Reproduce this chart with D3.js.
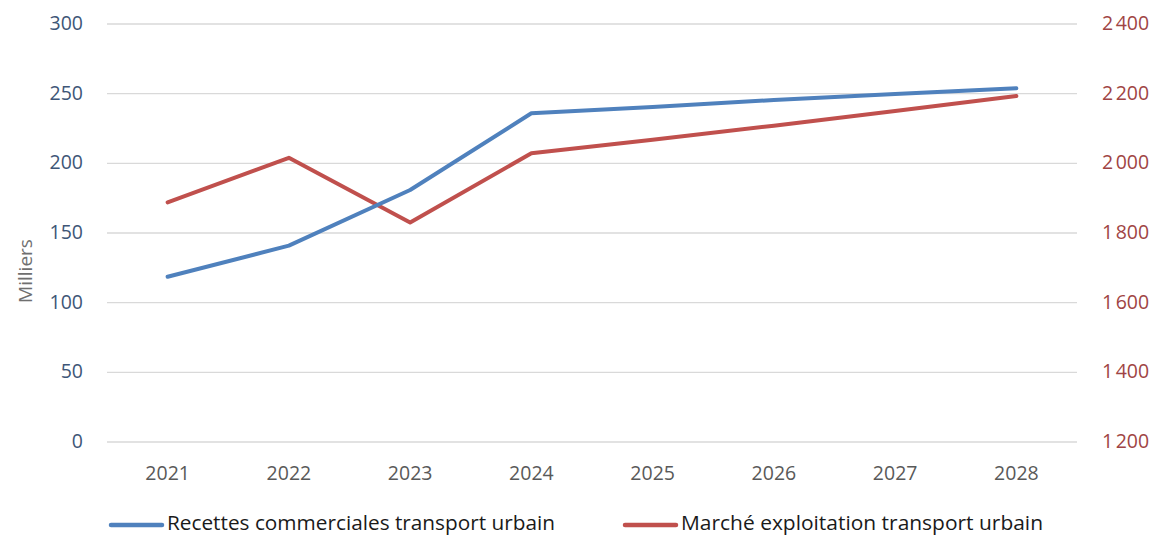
<!DOCTYPE html>
<html><head><meta charset="utf-8">
<script src="https://cdn.jsdelivr.net/npm/d3@7"></script>
<style>body{margin:0;background:#fff}svg{display:block}</style>
</head><body>
<svg id="c" width="1157" height="536"></svg>
<script>
const years = ["2021","2022","2023","2024","2025","2026","2027","2028"];
const recettes = [118.6, 140.9, 180.9, 235.9, 240.4, 245.5, 249.8, 253.9];
const marche = [1888, 2016, 1830, 2029, 2068, 2108, 2150, 2193];
const leftTicks = [0, 50, 100, 150, 200, 250, 300];
const rightTicks = [1200, 1400, 1600, 1800, 2000, 2200, 2400];
const seriesNames = ["Recettes commerciales transport urbain", "Marché exploitation transport urbain"];

const svg = d3.select("#c");
const font = "'Open Sans',sans-serif";
const L = 107, R = 1077, T = 24, B = 442;
const x = d3.scaleBand().domain(years).range([L, R]);
const yL = d3.scaleLinear().domain([0, 300]).range([B, T]);
const yR = d3.scaleLinear().domain([1200, 2400]).range([B, T]);

// gridlines
svg.append("g").selectAll("line").data(leftTicks).join("line")
  .attr("x1", L).attr("x2", R).attr("y1", d => yL(d)).attr("y2", d => yL(d))
  .attr("stroke", "#d9d9d9").attr("stroke-width", 1.3);

// left axis
const gl = svg.append("g").attr("transform", `translate(${L},0)`)
  .call(d3.axisLeft(yL).tickValues(leftTicks).tickSize(0).tickPadding(24));
gl.select(".domain").remove();
gl.selectAll("text").attr("font-family", font).attr("font-size", 19.5).attr("fill", "#3e5677").attr("dy", "0.28em");

// right axis
const fmt = d => d3.format(",")(d).replace(",", "\u202F");
const gr = svg.append("g").attr("transform", `translate(${R},0)`)
  .call(d3.axisRight(yR).tickValues(rightTicks).tickSize(0).tickPadding(25).tickFormat(fmt));
gr.select(".domain").remove();
gr.selectAll("text").attr("font-family", font).attr("font-size", 19.5).attr("fill", "#a04444").attr("dy", "0.28em");

// bottom axis
const gb = svg.append("g").attr("transform", `translate(0,${B})`)
  .call(d3.axisBottom(x).tickSize(0).tickPadding(24));
gb.select(".domain").remove();
gb.selectAll("text").attr("font-family", font).attr("font-size", 19.5).attr("fill", "#595959");

// y title
svg.append("text").attr("transform", "translate(32,271) rotate(-90)")
  .attr("text-anchor", "middle").attr("font-family", font).attr("font-size", 19)
  .attr("fill", "#6f6f6f").text("Milliers");

const cx = d => x(d) + x.bandwidth() / 2;
const lineL = d3.line().x((d, i) => cx(years[i])).y(d => yL(d));
const lineR = d3.line().x((d, i) => cx(years[i])).y(d => yR(d));

svg.append("path").attr("d", lineR(marche)).attr("fill", "none")
  .attr("stroke", "#c0504d").attr("stroke-width", 4).attr("stroke-linejoin", "round").attr("stroke-linecap", "round");
svg.append("path").attr("d", lineL(recettes)).attr("fill", "none")
  .attr("stroke", "#4f81bd").attr("stroke-width", 4).attr("stroke-linejoin", "round").attr("stroke-linecap", "round");

// legend
const legend = [
  {name: seriesNames[0], color: "#4f81bd", x0: 111, x1: 162, tx: 167, tl: 388},
  {name: seriesNames[1], color: "#c0504d", x0: 625, x1: 676, tx: 681, tl: 362}
];
const lg = svg.append("g").selectAll("g").data(legend).join("g");
lg.append("line").attr("x1", d => d.x0).attr("x2", d => d.x1).attr("y1", 525).attr("y2", 525)
  .attr("stroke", d => d.color).attr("stroke-width", 4.5).attr("stroke-linecap", "round");
lg.append("text").attr("x", d => d.tx).attr("y", 530).attr("font-family", font).attr("font-size", 19.5)
  .attr("fill", "#1a1a1a").attr("textLength", d => d.tl).attr("lengthAdjust", "spacingAndGlyphs")
  .text(d => d.name);
</script>
</body></html>
